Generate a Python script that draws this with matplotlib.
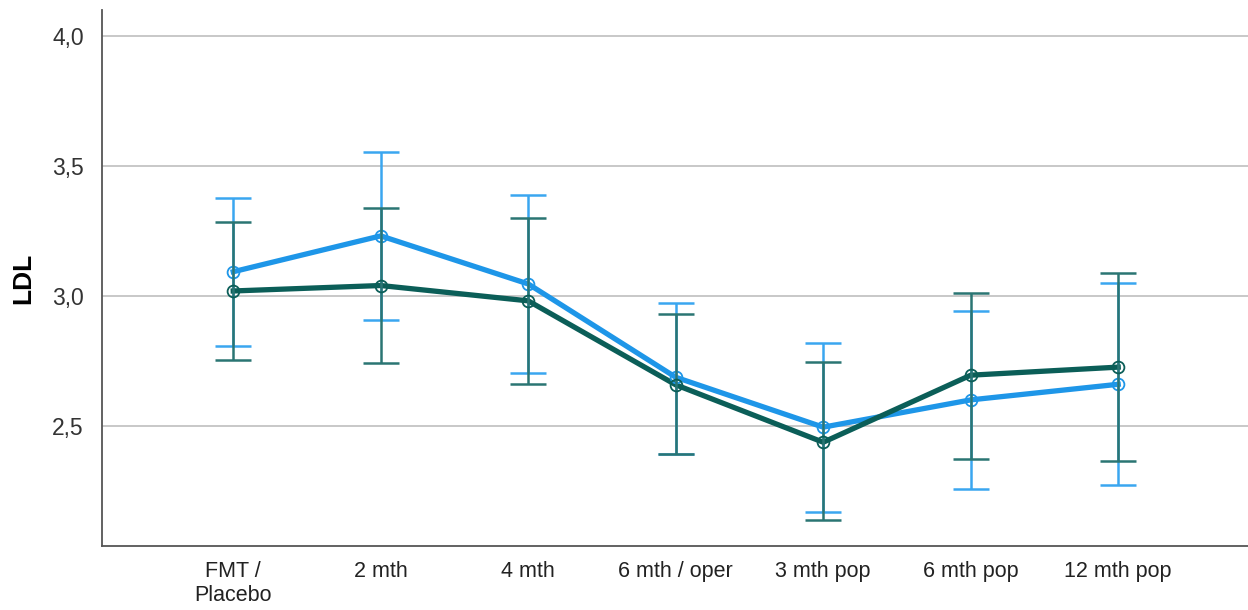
import matplotlib.pyplot as plt
from matplotlib.ticker import FuncFormatter

plt.rcParams['font.family'] = ['Liberation Sans', 'DejaVu Sans']

# time points
timepoints = ['FMT /\nPlacebo', '2 mth', '4 mth', '6 mth / oper',
              '3 mth pop', '6 mth pop', '12 mth pop']

# group 1 (light blue)
blue_mean = [3.093, 3.231, 3.046, 2.687, 2.495, 2.600, 2.660]
blue_upper = [3.376, 3.553, 3.390, 2.974, 2.818, 2.941, 3.050]
blue_lower = [2.808, 2.908, 2.704, 2.393, 2.169, 2.259, 2.272]

# group 2 (dark green)
green_mean = [3.019, 3.040, 2.981, 2.658, 2.437, 2.695, 2.726]
green_upper = [3.285, 3.340, 3.299, 2.930, 2.744, 3.010, 3.087]
green_lower = [2.755, 2.740, 2.662, 2.393, 2.138, 2.374, 2.364]

x = list(range(len(timepoints)))

fig = plt.figure(figsize=(12.48, 6.10), dpi=100)
ax = fig.add_axes([0.0817, 0.105, 0.9183, 0.8786])

def draw_group(mean, lo, hi, line_col, err_col, z):
    yerr = [[m - l for m, l in zip(mean, lo)], [h - m for m, h in zip(mean, hi)]]
    ax.errorbar(x, mean, yerr=yerr, fmt='none', ecolor=err_col, elinewidth=1.8,
                capsize=13, capthick=1.8, zorder=z + 1)
    ax.plot(x, mean, color=line_col, lw=3.8, zorder=z)
    ax.plot(x, mean, 'o', ms=8.5, mfc='none', mec=line_col, mew=1.3, zorder=z + 2)

draw_group(blue_mean, blue_lower, blue_upper, '#1e96e8', '#3aa6f0', 3)
draw_group(green_mean, green_lower, green_upper, '#0b5e58', '#2a7573', 4)

ax.set_xlim(-0.89, 6.88)
ax.set_ylim(2.038, 4.1)
ax.set_yticks([2.5, 3.0, 3.5, 4.0])
ax.yaxis.set_major_formatter(FuncFormatter(lambda v, p: f'{v:.1f}'.replace('.', ',')))
ax.set_xticks(x)
ax.set_xticklabels(timepoints)
ax.tick_params(axis='y', length=0, pad=13, labelsize=16.5, labelcolor='#333333')
ax.tick_params(axis='x', length=0, pad=11, labelsize=15.5, labelcolor='#222222')

ax.grid(axis='y', color='#c4c4c4', lw=1.3)
ax.set_axisbelow(True)
for s in ['top', 'right']:
    ax.spines[s].set_visible(False)
for s in ['left', 'bottom']:
    ax.spines[s].set_color('#555555')
    ax.spines[s].set_linewidth(1.3)

ax.set_ylabel('LDL', fontsize=19, fontweight='bold', labelpad=12)

fig.savefig('out.png', dpi=100)
